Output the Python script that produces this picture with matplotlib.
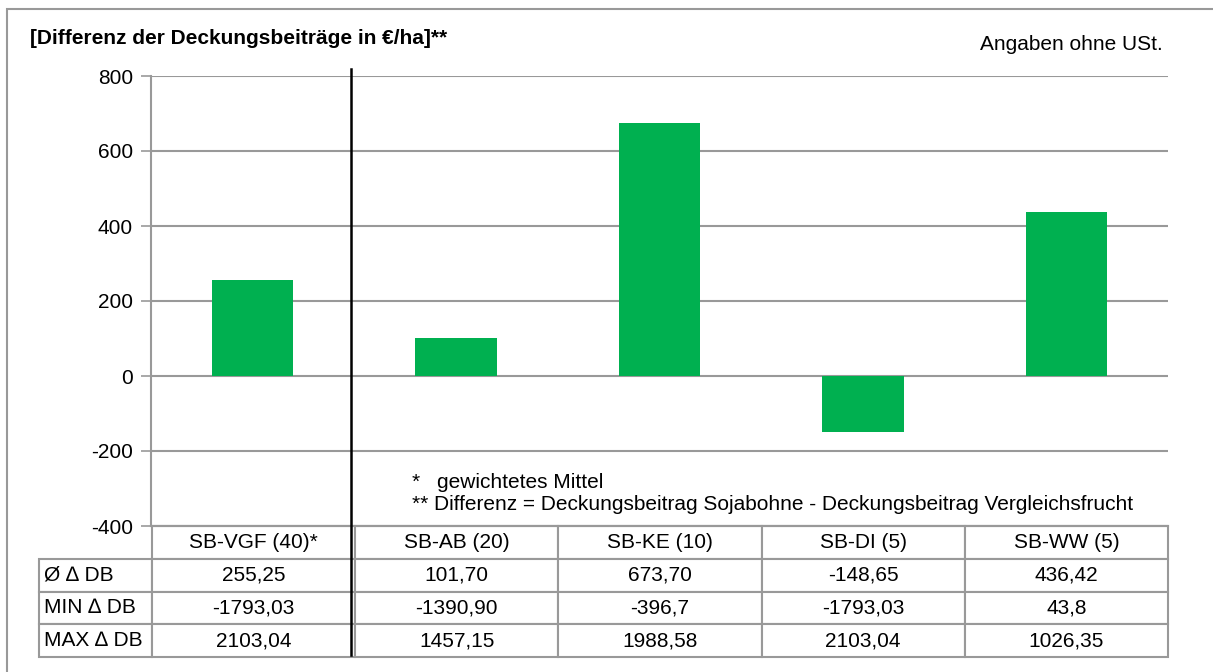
import numpy as np
import matplotlib.pyplot as plt
from matplotlib.patches import Rectangle
from matplotlib.lines import Line2D

plt.rcParams["font.family"] = ["Liberation Sans", "DejaVu Sans"]
plt.rcParams["axes.unicode_minus"] = False

# --- Daten ---
kategorien = ["SB-VGF (40)*", "SB-AB (20)", "SB-KE (10)", "SB-DI (5)", "SB-WW (5)"]
mittel_db = [255.25, 101.70, 673.70, -148.65, 436.42]
min_db = ["-1793,03", "-1390,90", "-396,7", "-1793,03", "43,8"]
max_db = ["2103,04", "1457,15", "1988,58", "2103,04", "1026,35"]
zeilen = ["Ø ∆ DB", "MIN ∆ DB", "MAX ∆ DB"]
y_ticks = [-400, -200, 0, 200, 400, 600, 800]

GRUEN = "#00B050"
GRAU = "#999999"
FS = 15

fig = plt.figure(figsize=(12.13, 6.72), dpi=100)
ax = fig.add_axes([151 / 1213, 1 - 526 / 672, 1017 / 1213, 450 / 672])

x = np.arange(len(kategorien))
ax.bar(x, mittel_db, 0.40, color=GRUEN, zorder=3)

ax.set_xlim(-0.5, len(kategorien) - 0.5)
ax.set_ylim(-400, 800)
ax.set_yticks(y_ticks)
ax.set_xticks([])
ax.tick_params(axis="y", labelsize=FS, length=7, width=1.2, color=GRAU, pad=6)
ax.yaxis.grid(True, color=GRAU, linewidth=1.5, zorder=0)
for s in ["top", "right"]:
    ax.spines[s].set_visible(False)
ax.spines["left"].set_color(GRAU)
ax.spines["left"].set_linewidth(1.5)
ax.spines["bottom"].set_color(GRAU)
ax.spines["bottom"].set_linewidth(1.5)

# --- Tabelle unter dem Diagramm ---
mittel_txt = [f"{v:.2f}".replace(".", ",") for v in mittel_db]
zellen = [
    [zeilen[0]] + mittel_txt,
    [zeilen[1]] + min_db,
    [zeilen[2]] + max_db,
]
x0 = (39 - 151) / 1017
tab = ax.table(
    cellText=zellen,
    colLabels=[""] + kategorien,
    colWidths=[113] + [203.4] * len(kategorien),
    cellLoc="center",
    bbox=[x0, -131 / 450, 1 - x0, 131 / 450],
)
tab.auto_set_font_size(False)
tab.set_fontsize(FS)
for (r, c), cell in tab.get_celld().items():
    cell.set_edgecolor(GRAU)
    cell.set_linewidth(1.5)
    if r == 0 and c == 0:
        cell.visible_edges = ""
    if c == 0 and r > 0:
        cell.PAD = 0.04
        cell._loc = "left"
        cell.get_text().set_horizontalalignment("left")

# schwarze Trennlinie
ax.add_line(Line2D([0.485, 0.485], [820, -400 - 129 / 0.375], color="black",
                   linewidth=1.8, clip_on=False, zorder=5))

# Fußnoten
ax.text(412 / 1213, 1 - 482 / 672, "*", transform=fig.transFigure,
        fontsize=FS, va="center", ha="left")
ax.text(437 / 1213, 1 - 482 / 672, "gewichtetes Mittel", transform=fig.transFigure,
        fontsize=FS, va="center", ha="left")
ax.text(412 / 1213, 1 - 504 / 672,
        "** Differenz = Deckungsbeitrag Sojabohne - Deckungsbeitrag Vergleichsfrucht",
        transform=fig.transFigure, fontsize=FS, va="center", ha="left")

# Titel und Hinweis
fig.text(30 / 1213, 1 - 39 / 672, "[Differenz der Deckungsbeiträge in €/ha]**",
         fontsize=FS, fontweight="bold", va="center", ha="left")
fig.text(1163 / 1213, 1 - 45 / 672, "Angaben ohne USt.", fontsize=FS,
         va="center", ha="right")

# Rahmen
fig.patches.append(Rectangle((7 / 1213, -0.1), 1.2, 1.1 - 9 / 672,
                             transform=fig.transFigure, fill=False,
                             edgecolor=GRAU, linewidth=1.5))

fig.savefig("out.png", dpi=100)
